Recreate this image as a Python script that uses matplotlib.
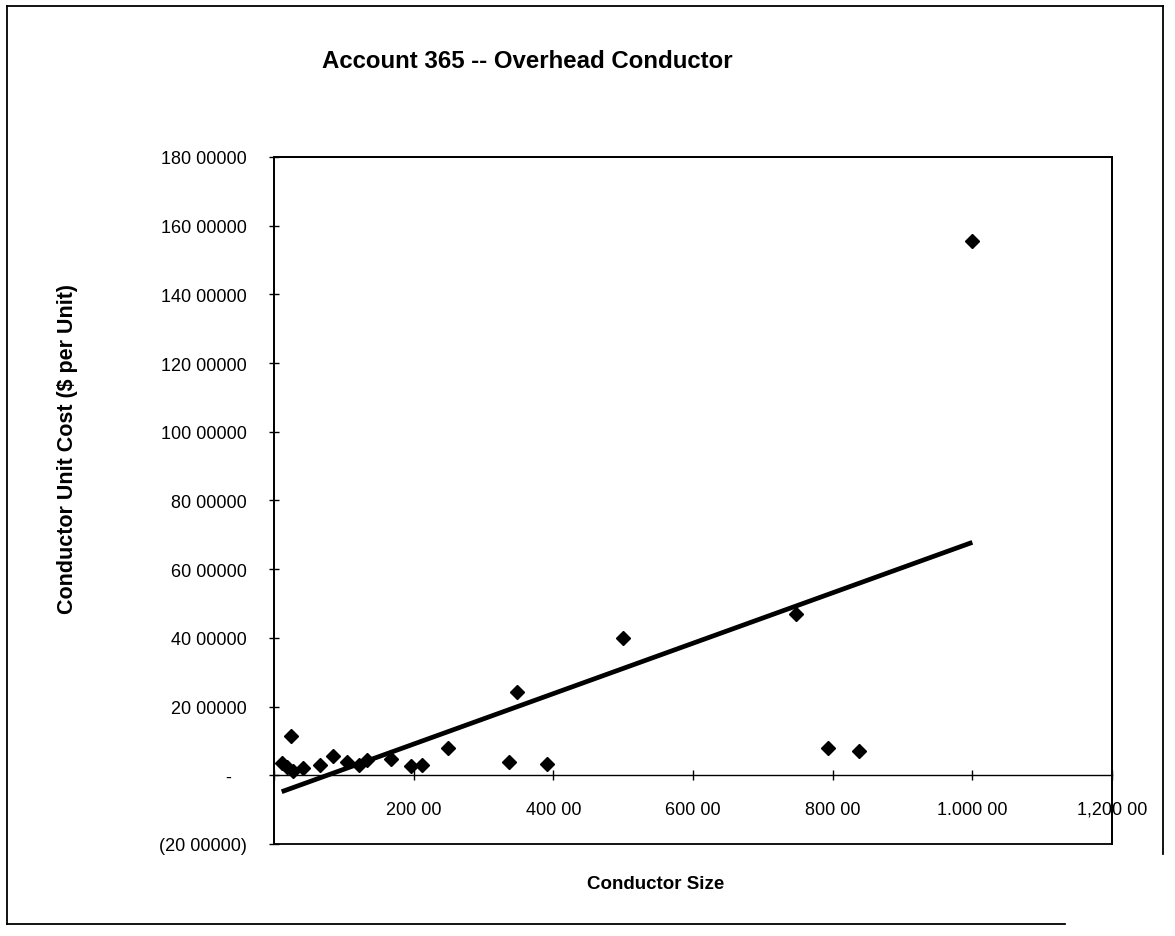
import numpy as np
import matplotlib.pyplot as plt
from matplotlib.lines import Line2D

plt.rcParams['font.family'] = ['Liberation Sans', 'DejaVu Sans']

# conductor size vs unit cost ($ per unit)
conductor_size = [11, 18, 25, 27, 42, 66, 84, 105, 121, 133, 167, 196, 212,
                  249, 336, 348, 391, 500, 748, 794, 838, 1000]
unit_cost = [3.5, 2.5, 11.4, 1.3, 2.2, 3.0, 5.5, 3.8, 2.9, 4.5, 4.6, 2.7, 3.1,
             8.0, 3.8, 24.2, 3.2, 40.0, 47.0, 7.9, 7.0, 155.5]

y_ticks = [-20, 0, 20, 40, 60, 80, 100, 120, 140, 160, 180]
y_labels = ['(20 00000)', '-   ', '20 00000', '40 00000', '60 00000', '80 00000',
            '100 00000', '120 00000', '140 00000', '160 00000', '180 00000']
x_ticks = [0, 200, 400, 600, 800, 1000, 1200]
x_labels = ['', '200 00', '400 00', '600 00', '800 00', '1.000 00', '1,200 00']

fig = plt.figure(figsize=(11.75, 9.37), dpi=100)
ax = fig.add_axes([0.2332, 0.0982, 0.7132, 0.7332])

ax.plot(conductor_size, unit_cost, linestyle='none', marker='D',
        markersize=7.2, color='black', zorder=3)

# linear trendline (least squares), drawn over the data range like Excel
slope, intercept = np.polyfit(conductor_size, unit_cost, 1)
xs = np.array([min(conductor_size), max(conductor_size)])
ax.plot(xs, slope * xs + intercept, color='black', lw=3.4, solid_capstyle='butt', zorder=2)

ax.set_xlim(0, 1200)
ax.set_ylim(-20, 180)

# x axis crosses at zero, plot area keeps its frame
ax.spines['bottom'].set_position(('data', 0))
ax.spines['bottom'].set_linewidth(1.0)
for s in ['left', 'top', 'right']:
    ax.spines[s].set_linewidth(1.3)
ax.patch.set_edgecolor('black')
ax.patch.set_linewidth(1.3)

ax.set_yticks(y_ticks)
ax.set_yticklabels(y_labels)
ax.set_xticks(x_ticks)
ax.set_xticklabels(x_labels)
ax.tick_params(axis='both', direction='inout', length=7, width=1.0, labelsize=13)
ax.tick_params(axis='y', pad=16)
ax.tick_params(axis='x', pad=15)
for lbl in ax.get_xticklabels():
    lbl.set_clip_on(False)

fig.text(322 / 1175, 1 - 62 / 937, 'Account 365 -- Overhead Conductor',
         fontsize=17.3, fontweight='bold', ha='left', va='center')
fig.text(68 / 1175, 1 - 449 / 937, 'Conductor Unit Cost ($ per Unit)',
         fontsize=15.5, fontweight='bold', rotation=90, ha='center', va='center')
fig.text(656 / 1175, 1 - 885 / 937, 'Conductor Size',
         fontsize=13.5, fontweight='bold', ha='center', va='center')

# outer chart border (scanned page: bottom-right corner is cut off)
W, H = 1175, 937
for xa, ya in [((7, 7), (7, 925)), ((7, 1163), (7, 7)),
               ((1163, 1163), (7, 855)), ((7, 1065), (925, 925))]:
    fig.add_artist(Line2D([x / W for x in xa], [1 - y / H for y in ya],
                          transform=fig.transFigure, color='black', lw=1.3))

fig.savefig('out.png', dpi=100, facecolor='white')
